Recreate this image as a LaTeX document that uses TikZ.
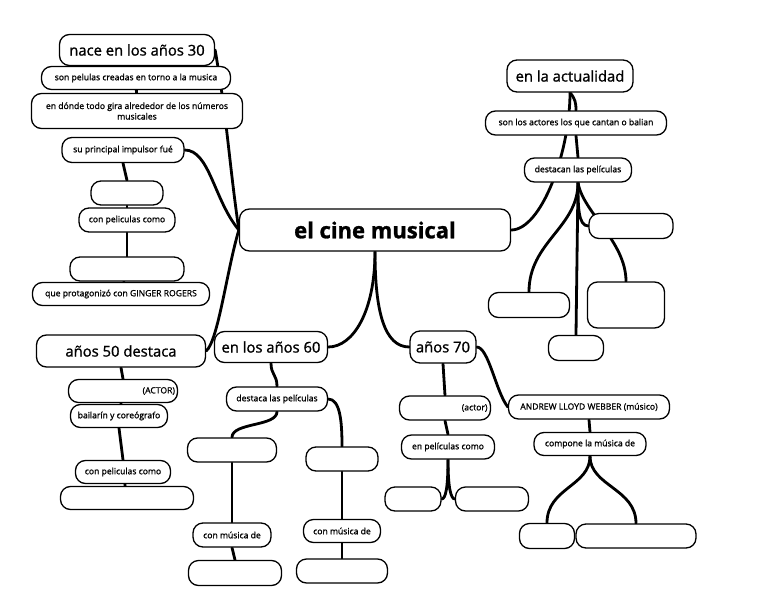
\documentclass[tikz,border=0pt]{standalone}
\usepackage{fontspec}
\setmainfont{Open Sans}[FakeBold=1.2]
\usetikzlibrary{backgrounds}

\tikzset{
  burbuja/.style={draw, fill=white, line width=1.3pt, rounded corners=10pt, inner sep=0pt, font=\fontsize{8.6}{10.5}\selectfont},
  titulo/.style={burbuja, font=\fontsize{14.8}{18}\selectfont},
  tam/.style 2 args={minimum width=#1pt, minimum height=#2pt},
  rama/.style={line width=2.8pt, line cap=round},
}

\begin{document}
\begin{tikzpicture}[x=1pt,y=-1pt]
\useasboundingbox (0,0) rectangle (761,600);
% Bulles
\node[burbuja, tam={271}{42}, font=\fontsize{22}{26}\selectfont\bfseries] (cine) at (375,230) {el cine musical};

\node[titulo, tam={155}{31}] (nace) at (137,50) {nace en los años 30};
\node[burbuja, tam={189}{23}] (pelulas) at (136,78) {son pelulas creadas en torno a la musica};
\node[burbuja, tam={211}{35}, align=center] (donde) at (137,111) {en dónde todo gira alrededor de los números\\musicales};
\node[burbuja, tam={122}{25}] (impulsor) at (123,150) {su principal impulsor fué};
\node[burbuja, tam={72}{24}] (vacioA) at (127,193) {};
\node[burbuja, tam={96}{24}] (pelisA) at (127,220) {con peliculas como};
\node[burbuja, tam={114}{24}] (vacioB) at (127,269) {};
\node[burbuja, tam={177}{23}] (ginger) at (121,294) {que protagonizó con GINGER ROGERS};

\node[titulo, tam={126}{32}] (actual) at (570,76) {en la actualidad};
\node[burbuja, tam={181}{24}] (actores) at (576,123) {son los actores los que cantan o balian};
\node[burbuja, tam={107}{24}] (destacan) at (578,170) {destacan las películas};
\node[burbuja, tam={84}{25}] (vacioC) at (631,226) {};
\node[burbuja, tam={81}{25}] (vacioD) at (529,305) {};
\node[burbuja, tam={77}{46}] (vacioE) at (626,305) {};
\node[burbuja, tam={55}{25}] (vacioF) at (576,348) {};

\node[titulo, tam={169}{32}] (cincuenta) at (121,351) {años 50 destaca};
\node[burbuja, tam={109}{23}, text width=104pt, align=right] (actor) at (123,391) {(ACTOR)};
\node[burbuja, tam={97}{23}] (bailarin) at (119,416) {bailarín y coreógrafo};
\node[burbuja, tam={95}{23}] (pelisB) at (123,472) {con peliculas como};
\node[burbuja, tam={133}{23}] (vacioG) at (127,498) {};

\node[titulo, tam={113}{31}] (sesenta) at (271,347) {en los años 60};
\node[burbuja, tam={101}{24}] (destaca) at (277,399) {destaca las películas};
\node[burbuja, tam={89}{24}] (vacioH) at (232,450) {};
\node[burbuja, tam={72}{24}] (vacioI) at (342,459) {};
\node[burbuja, tam={78}{24}] (musicaA) at (232,535) {con música de};
\node[burbuja, tam={77}{23}] (musicaB) at (342,531) {con música de};
\node[burbuja, tam={93}{25}] (vacioJ) at (235,573) {};
\node[burbuja, tam={91}{24}] (vacioK) at (342,571) {};

\node[titulo, tam={66}{32}] (setenta) at (443,347) {años 70};
\node[burbuja, tam={91}{24}, text width=85pt, align=right] (actorB) at (445,408) {(actor)};
\node[burbuja, tam={93}{24}] (pelisC) at (448,447) {en películas como};
\node[burbuja, tam={56}{24}] (vacioL) at (413,499) {};
\node[burbuja, tam={73}{24}] (vacioM) at (492,499) {};
\node[burbuja, tam={161}{24}] (webber) at (589,407) {ANDREW LLOYD WEBBER (músico)};
\node[burbuja, tam={112}{23}] (compone) at (590,444) {compone la música de};
\node[burbuja, tam={55}{25}] (vacioN) at (547,536) {};
\node[burbuja, tam={120}{24}] (vacioO) at (636,536) {};

% Liens
\begin{scope}[on background layer]
\draw[rama] (nace.east) .. controls +(12,70) and +(-10,-70) .. (cine.west);
\draw[rama] (impulsor.east) .. controls +(25,0) and +(-25,-30) .. (cine.west);
\draw[rama] (cine.west) .. controls +(-12,40) and +(12,-10) .. (cincuenta.east);
\draw[rama] (cine.south) .. controls +(0,60) and +(25,0) .. (sesenta.east);
\draw[rama] (cine.south) .. controls +(0,60) and +(-25,0) .. (setenta.west);
\draw[rama] (cine.east) .. controls +(30,0) and +(0,60) .. (actual.south);

\draw[rama] (nace) -- (pelulas);
\draw[rama] (pelulas) -- (donde);
\draw[rama] (impulsor.south) -- (vacioA.north);
\draw[rama] (vacioA) -- (pelisA);
\draw[rama] (pelisA.south) -- (vacioB.north);
\draw[rama] (vacioB) -- (ginger);

\draw[rama] (actual.south) .. controls +(5,6) and +(0,-8) .. (actores.north);
\draw[rama] (actores.south) -- (destacan.north);
\draw[rama] (destacan.south) .. controls +(0,45) and +(0,-50) .. (vacioD.north);
\draw[rama] (destacan.south) -- (vacioF.north);
\draw[rama] (destacan.south) .. controls +(0,25) and +(-10,0) .. (vacioC.west);
\draw[rama] (destacan.south) .. controls +(5,30) and +(0,-40) .. (vacioE.north);

\draw[rama] (cincuenta.south) -- (actor.north);
\draw[rama] (actor) -- (bailarin);
\draw[rama] (bailarin.south) -- (pelisB.north);
\draw[rama] (pelisB) -- (vacioG);

\draw[rama] (sesenta.south) .. controls +(0,12) and +(0,-12) .. (destaca.north);
\draw[rama] (destaca.south) .. controls +(0,15) and +(0,-15) .. (vacioH.north);
\draw[rama] (destaca.east) .. controls +(12,0) and +(0,-25) .. (vacioI.north);
\draw[rama] (vacioH.south) -- (musicaA.north);
\draw[rama] (musicaA.south) -- (vacioJ.north);
\draw[rama] (vacioI.south) -- (musicaB.north);
\draw[rama] (musicaB.south) -- (vacioK.north);

\draw[rama] (setenta.south) -- (actorB.north);
\draw[rama] (actorB.south) -- (pelisC.north);
\draw[rama] (pelisC.south) .. controls +(0,28) and +(4,0) .. (vacioL.east);
\draw[rama] (pelisC.south) .. controls +(0,28) and +(-4,0) .. (vacioM.west);
\draw[rama] (setenta.east) .. controls +(12,0) and +(-12,-15) .. (webber.west);
\draw[rama] (webber.south) -- (compone.north);
\draw[rama] (compone.south) .. controls +(0,30) and +(0,-35) .. (vacioN.north);
\draw[rama] (compone.south) .. controls +(0,30) and +(0,-35) .. (vacioO.north);
\end{scope}
\end{tikzpicture}
\end{document}
